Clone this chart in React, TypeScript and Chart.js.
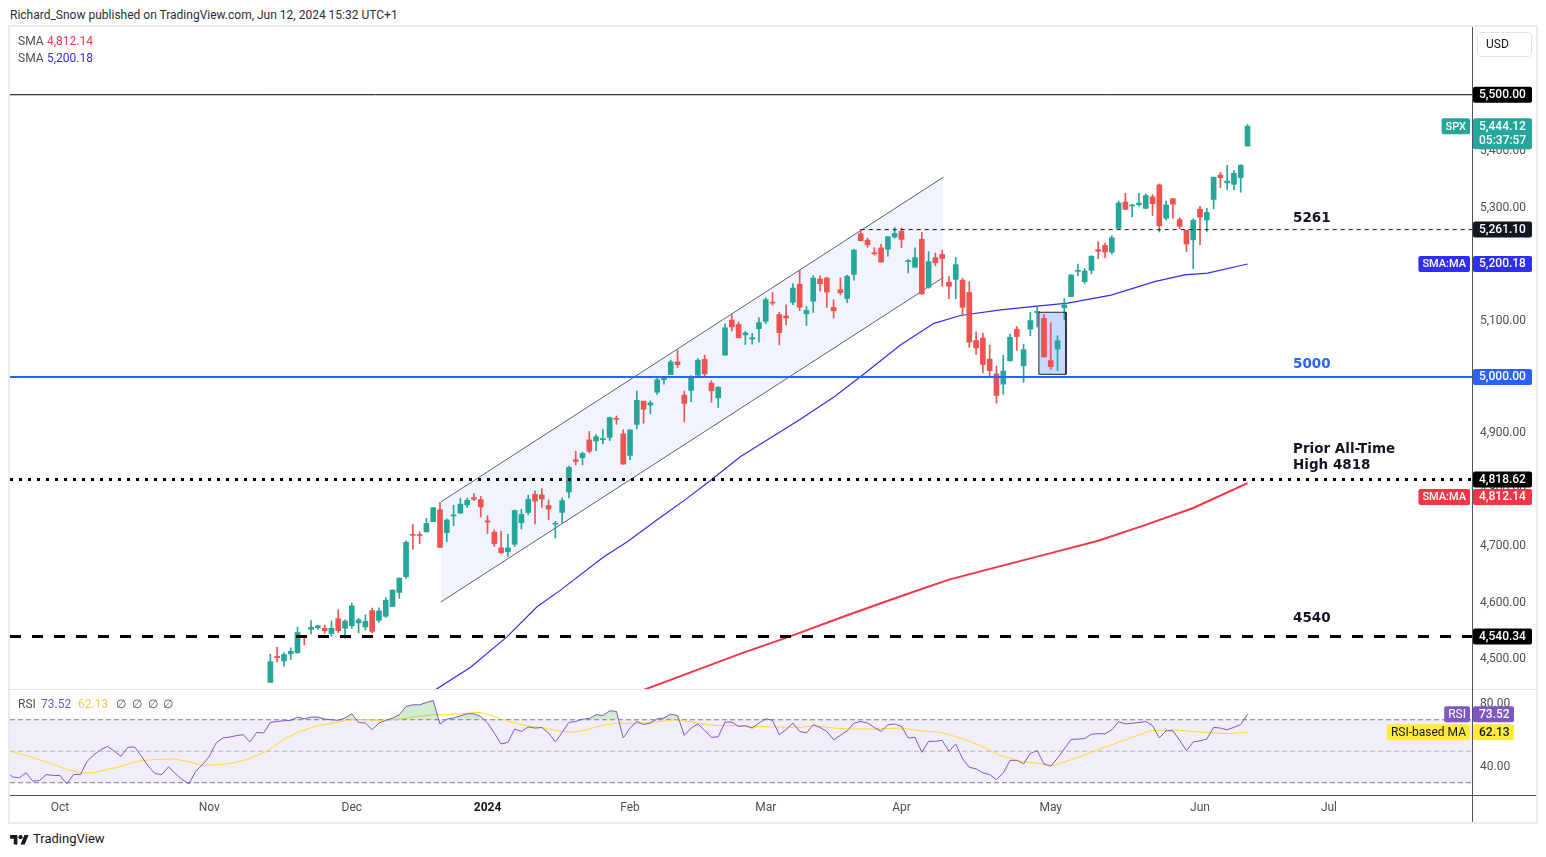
import React, { useEffect, useRef } from 'react';
import { Chart, registerables } from 'chart.js';
Chart.register(...registerables);

const FONT = 'Roboto, "Liberation Sans", sans-serif';
const NOTE_FONT = '"DejaVu Sans", Verdana, sans-serif';
const GREEN = '#26a69a';
const RED = '#ef5350';
const SMA_FAST_COLOR = '#2e2ef5';
const SMA_SLOW_COLOR = '#f23645';
const LEVEL_BLUE = '#2962ff';
const TEXT = '#131722';
const AXIS_TEXT = '#4c4f59';
const RSI_COLOR = '#7e57c2';
const RSI_MA_COLOR = '#fdd835';

// x axis: trading-day index, 0 = 2 Oct 2023
const monthTickIdx = [0, 22, 43, 63, 84, 104, 124, 146, 168, 187];
const monthTickLabels = ['Oct', 'Nov', 'Dec', '2024', 'Feb', 'Mar', 'Apr', 'May', 'Jun', 'Jul'];
const X_MIN = -7.37;
const X_MAX = 208.08;

// daily candles, first = 14 Nov 2023 (index 31)
const candleStart = 31;
const opens = [
  4458.97, 4505.30, 4497.08, 4509.55, 4511.70, 4538.77, 4553.04, 4555.84, 4554.86, 4545.55,
  4571.84, 4554.87, 4559.43, 4564.37, 4557.25, 4586.23, 4568.84, 4576.20, 4593.39, 4618.30,
  4646.20, 4721.04, 4719.40, 4725.58, 4743.72, 4764.73, 4724.29, 4753.92, 4758.86, 4773.45,
  4786.44, 4782.88, 4745.20, 4725.07, 4697.42, 4690.57, 4703.70, 4741.93, 4759.94, 4792.13,
  4791.18, 4772.35, 4739.13, 4760.10, 4796.28, 4853.42, 4856.80, 4888.56, 4886.66, 4888.91,
  4892.95, 4925.89, 4899.19, 4861.11, 4916.06, 4957.19, 4950.16, 4973.05, 4995.16, 5004.17,
  5026.83, 4967.94, 4976.44, 5003.14, 5031.13, 4989.32, 4963.03, 5038.83, 5100.92, 5093.00,
  5074.60, 5067.20, 5085.36, 5098.51, 5130.99, 5110.52, 5108.03, 5132.38, 5164.46, 5111.96,
  5134.30, 5173.49, 5175.14, 5123.31, 5154.77, 5139.09, 5181.69, 5253.43, 5242.48, 5219.52,
  5228.85, 5226.31, 5248.03, 5257.97, 5204.29, 5194.37, 5244.05, 5158.95, 5211.37, 5217.03,
  5167.88, 5172.95, 5171.51, 5149.67, 5064.59, 5068.97, 5031.52, 5005.44, 4987.33, 5028.85,
  5084.65, 5019.88, 5084.86, 5114.13, 5103.78, 5029.03, 5049.32, 5122.78, 5142.42, 5187.20,
  5168.98, 5189.03, 5225.49, 5233.08, 5221.10, 5263.26, 5310.07, 5303.10, 5305.35, 5298.69,
  5319.28, 5340.26, 5281.45, 5315.91, 5278.73, 5259.77, 5243.21, 5297.15, 5278.24, 5314.48,
  5357.80, 5343.81, 5341.22, 5353.00, 5409.13,
];
const highs = [
  4508.67, 4521.17, 4511.99, 4520.12, 4557.11, 4542.14, 4568.43, 4560.31, 4560.52, 4568.14,
  4587.64, 4569.89, 4599.39, 4572.37, 4578.56, 4590.74, 4590.92, 4609.23, 4623.18, 4643.93,
  4709.69, 4738.57, 4725.58, 4749.52, 4768.69, 4778.01, 4748.71, 4772.94, 4784.72, 4785.39,
  4793.30, 4788.43, 4754.33, 4729.29, 4726.78, 4721.49, 4764.54, 4765.47, 4790.80, 4798.50,
  4802.40, 4782.34, 4744.23, 4785.79, 4842.07, 4868.41, 4866.48, 4903.68, 4898.15, 4906.69,
  4929.31, 4931.09, 4906.75, 4906.97, 4975.29, 4957.19, 4957.77, 4999.89, 5000.40, 5030.06,
  5048.39, 4975.29, 5002.52, 5032.72, 5038.70, 4993.71, 4983.21, 5094.39, 5111.06, 5097.66,
  5080.69, 5077.37, 5104.99, 5140.33, 5149.67, 5114.54, 5127.97, 5165.62, 5189.26, 5124.66,
  5179.87, 5179.14, 5176.85, 5136.86, 5175.60, 5180.31, 5226.19, 5261.10, 5246.09, 5229.09,
  5235.16, 5249.26, 5264.85, 5263.95, 5208.34, 5228.75, 5256.59, 5222.18, 5219.57, 5224.81,
  5178.43, 5211.78, 5175.03, 5168.43, 5079.84, 5077.96, 5056.66, 5019.02, 5038.84, 5076.12,
  5089.48, 5057.75, 5114.62, 5123.49, 5110.83, 5096.12, 5073.21, 5139.12, 5181.00, 5200.23,
  5191.95, 5214.42, 5239.66, 5237.26, 5250.37, 5311.76, 5325.49, 5305.45, 5325.32, 5324.32,
  5323.18, 5341.88, 5311.65, 5315.91, 5282.26, 5260.21, 5280.33, 5302.11, 5298.80, 5354.16,
  5362.35, 5375.08, 5365.79, 5375.95, 5447.25,
];
const lows = [
  4458.97, 4495.31, 4487.83, 4499.66, 4510.36, 4525.51, 4545.05, 4552.80, 4546.32, 4540.51,
  4547.15, 4537.24, 4554.71, 4546.72, 4551.68, 4546.50, 4565.22, 4574.06, 4593.39, 4608.09,
  4643.23, 4694.34, 4704.62, 4725.58, 4743.72, 4697.82, 4708.35, 4736.77, 4758.45, 4768.90,
  4780.98, 4751.99, 4722.67, 4699.71, 4687.53, 4682.11, 4699.82, 4730.35, 4756.20, 4739.58,
  4768.98, 4747.12, 4714.82, 4740.57, 4785.87, 4844.05, 4844.37, 4865.94, 4869.34, 4881.47,
  4887.40, 4916.27, 4845.15, 4853.52, 4907.99, 4918.09, 4934.88, 4969.05, 4987.09, 5004.17,
  5016.83, 4920.31, 4956.45, 4999.44, 4999.52, 4955.02, 4946.00, 5038.83, 5081.46, 5068.91,
  5057.29, 5058.35, 5061.89, 5094.16, 5127.18, 5056.82, 5092.22, 5128.21, 5117.50, 5091.14,
  5114.48, 5151.88, 5123.30, 5104.35, 5145.47, 5131.59, 5171.55, 5240.66, 5229.87, 5216.09,
  5203.42, 5213.92, 5245.82, 5229.20, 5184.05, 5194.37, 5146.06, 5157.21, 5197.35, 5160.78,
  5138.70, 5138.77, 5107.94, 5052.47, 5039.83, 5007.25, 5001.89, 4953.56, 4969.40, 5027.96,
  5047.02, 4990.58, 5073.14, 5088.65, 5035.31, 5013.45, 5011.05, 5101.22, 5142.42, 5178.96,
  5165.86, 5182.88, 5209.68, 5211.16, 5217.98, 5263.26, 5296.19, 5283.59, 5302.40, 5297.87,
  5286.01, 5256.93, 5278.39, 5280.89, 5262.70, 5222.10, 5191.68, 5234.32, 5257.63, 5297.64,
  5335.36, 5331.33, 5331.52, 5327.25, 5409.13,
];
const closes = [
  4495.70, 4502.88, 4508.24, 4514.02, 4547.38, 4538.19, 4556.62, 4559.34, 4550.43, 4554.89,
  4550.58, 4567.80, 4594.63, 4569.78, 4567.18, 4549.34, 4585.59, 4604.37, 4622.44, 4643.70,
  4707.09, 4719.55, 4719.19, 4740.56, 4768.37, 4698.35, 4746.75, 4754.63, 4774.75, 4781.58,
  4783.35, 4769.83, 4742.83, 4704.81, 4688.68, 4697.24, 4763.54, 4756.50, 4783.45, 4780.24,
  4783.83, 4765.98, 4739.21, 4780.94, 4839.81, 4850.43, 4864.60, 4868.55, 4894.16, 4890.97,
  4927.93, 4924.97, 4845.65, 4906.19, 4958.61, 4942.81, 4954.23, 4995.06, 4997.91, 5026.61,
  5021.84, 4953.17, 5000.62, 5029.73, 5005.57, 4975.51, 4981.80, 5087.03, 5088.80, 5069.53,
  5078.18, 5069.76, 5096.27, 5137.08, 5130.95, 5078.65, 5104.76, 5157.36, 5123.69, 5117.94,
  5175.27, 5165.31, 5150.48, 5117.09, 5149.42, 5178.51, 5224.62, 5241.53, 5234.18, 5218.19,
  5203.58, 5248.49, 5254.35, 5243.77, 5205.81, 5211.49, 5147.21, 5204.34, 5202.39, 5209.91,
  5160.64, 5199.06, 5123.41, 5061.82, 5051.41, 5022.21, 5011.12, 4967.23, 5010.60, 5070.55,
  5071.63, 5048.42, 5099.96, 5116.17, 5035.69, 5018.39, 5064.20, 5127.79, 5180.74, 5187.70,
  5187.67, 5214.08, 5222.68, 5221.42, 5246.68, 5308.15, 5297.10, 5303.27, 5308.13, 5321.41,
  5307.01, 5267.84, 5304.72, 5306.04, 5266.95, 5235.48, 5277.51, 5283.40, 5291.34, 5354.03,
  5352.96, 5346.99, 5360.79, 5375.32, 5444.12,
];

// moving averages (index, value)
const sma50Idx = [50, 55.6, 60.5, 65.9, 70.3, 73.7, 80.1, 83.6, 88.0, 92.4, 95.9, 100.3, 109.1, 114.1, 118.0, 123.9, 128.8, 132.7, 138.6, 143.6, 148.5, 154.9, 161.3, 165.7, 169.1, 175];
const sma50Vals = [4405, 4448, 4486, 4540, 4593, 4622, 4681, 4708, 4747, 4785, 4817, 4859, 4925, 4965, 5001, 5057, 5095, 5109, 5119, 5125, 5131, 5145, 5169, 5181, 5184, 5200.18];
const sma200Idx = [80, 86.5, 100.3, 107.7, 116, 124, 131, 138.6, 146, 153, 160, 167, 175];
const sma200Vals = [4420, 4448, 4510, 4541, 4578, 4612, 4641, 4665, 4688, 4710, 4738, 4768, 4812.14];

const priceTicks = [4500, 4600, 4700, 4800, 4900, 5000, 5100, 5200, 5300, 5400, 5500];

// drawn levels
const levelTop = 5500;
const level5261 = 5261.1;
const level5261StartIdx = 118;
const level5000 = 5000;
const levelPriorAth = 4818.62;
const level4540 = 4540.34;
const channelIdx = [56.15, 130.19];
const channelUpper = [4778.9, 5354.1];
const channelLower = [4601.6, 5176.6];
const boxIdx = [144.25, 148.25];
const boxPrice = [5004.8, 5114.7];

const lastPrice = 5444.12;
const countdown = '05:37:57';
const sma200Last = 4812.14;
const sma50Last = 5200.18;

// RSI (first value at index -8)
const rsiStart = -8;
const rsiValues = [
  37.3, 33.7, 33.1, 36.3, 31.0, 31.4, 35.2, 34.6, 34.6, 29.3,
  35.2, 35.2, 43.6, 47.8, 51.0, 53.1, 50.0, 46.8, 52.5, 52.7,
  46.8, 40.5, 35.8, 35.2, 40.1, 35.8, 32.0, 29.3, 37.3, 41.5,
  46.8, 55.2, 58.4, 59.0, 59.9, 60.5, 55.9, 62.0, 61.6, 68.3,
  68.9, 69.4, 69.6, 71.7, 70.6, 71.7, 71.7, 70.4, 70.0, 69.6,
  71.1, 73.8, 68.3, 67.9, 63.7, 67.9, 69.6, 71.1, 73.2, 78.4,
  79.5, 79.5, 81.0, 82.2, 67.3, 70.4, 71.1, 72.5, 73.8, 73.8,
  72.1, 67.9, 61.6, 54.6, 55.6, 64.1, 62.6, 65.4, 64.7, 65.1,
  61.6, 55.9, 62.0, 68.3, 68.9, 70.4, 70.8, 73.2, 72.7, 75.7,
  75.3, 58.4, 64.7, 68.9, 67.0, 67.9, 70.6, 71.1, 73.6, 72.7,
  60.1, 64.7, 67.3, 63.2, 58.8, 59.2, 68.5, 68.5, 65.8, 66.2,
  64.7, 67.9, 70.6, 69.6, 60.5, 63.7, 67.9, 62.6, 61.6, 66.8,
  65.1, 62.6, 57.3, 60.1, 63.0, 67.9, 68.9, 67.9, 65.1, 62.6,
  66.8, 67.3, 65.8, 58.4, 58.8, 49.3, 56.3, 56.3, 56.9, 50.0,
  54.6, 45.3, 39.8, 38.8, 36.3, 35.2, 32.0, 36.1, 44.2, 44.2,
  42.0, 48.6, 50.4, 42.0, 40.4, 45.6, 51.5, 57.5, 57.7, 58.1,
  60.8, 61.2, 61.0, 63.6, 68.7, 67.4, 67.8, 68.2, 68.9, 66.3,
  58.5, 63.0, 63.0, 57.0, 50.4, 55.9, 56.6, 57.7, 65.2, 64.7,
  63.6, 65.2, 67.0, 73.52,
];
const rsiMaIdx = [-7.2, -3.9, -1.5, 1.0, 2.9, 4.9, 6.9, 8.8, 11.3, 13.8, 16.7, 18.7, 21.1, 23.1, 25.1, 27.5, 30.5, 32.9, 35.4, 37.9, 40.3, 42.8, 45.2, 47.7, 50.1, 52.6, 55.1, 57.5, 60.0, 61.9, 63.9, 66.4, 68.8, 71.3, 73.8, 75.7, 77.7, 79.6, 82.1, 84.6, 87.5, 91.0, 93.4, 96.4, 99.3, 102.3, 105.2, 109.1, 111.1, 114.1, 117.0, 120.0, 123.9, 126.8, 129.8, 132.7, 135.7, 138.4, 141.7, 143.7, 146.3, 148.9, 152.0, 154.0, 156.6, 158.1, 160.7, 164.3, 166.9, 169.4, 172.0, 175.0];
const rsiMaVals = [50.0, 45.8, 42.6, 38.4, 36.3, 36.3, 38.4, 40.1, 43.6, 44.7, 45.1, 43.6, 40.9, 41.3, 42.2, 44.7, 50.0, 57.3, 62.6, 66.2, 67.9, 70.0, 70.0, 69.6, 70.4, 72.1, 73.2, 73.2, 74.2, 74.7, 72.1, 68.6, 66.2, 64.7, 62.6, 62.2, 63.7, 66.2, 67.9, 67.5, 68.5, 70.0, 68.3, 66.4, 66.2, 65.8, 65.4, 65.1, 66.2, 64.7, 64.1, 64.1, 64.7, 63.0, 62.0, 58.4, 53.5, 47.5, 43.5, 42.5, 41.0, 44.4, 49.3, 52.6, 56.6, 59.0, 63.0, 63.6, 62.5, 61.8, 61.2, 62.13];
const rsiTicks = [80, 40];
const rsiLast = 73.52;
const rsiMaLast = 62.13;

const AXIS_W = 64;

const fmt = (v: number) => v.toLocaleString('en-US', { minimumFractionDigits: 2, maximumFractionDigits: 2 });

function hLine(y: number, color: string, width: number, dash: number[], order: number, x0 = X_MIN): any {
  return {
    type: 'line',
    data: [{ x: x0, y }, { x: X_MAX, y }],
    borderColor: color,
    borderWidth: width,
    borderDash: dash,
    pointRadius: 0,
    fill: false,
    clip: 0,
    order,
  };
}

function roundBox(ctx: CanvasRenderingContext2D, x: number, y: number, w: number, h: number, r: number) {
  ctx.beginPath();
  if ((ctx as any).roundRect) (ctx as any).roundRect(x, y, w, h, r);
  else ctx.rect(x, y, w, h);
  ctx.fill();
}

const noPad = (s: any) => {
  s.paddingTop = 0;
  s.paddingBottom = 0;
  s.paddingLeft = 0;
  s.paddingRight = 0;
};

const notes = [
  { text: '5261', price: level5261, dy: -11.6, color: TEXT },
  { text: '5000', price: level5000, dy: -12, color: LEVEL_BLUE },
  { text: 'Prior All-Time', price: levelPriorAth, dy: -29.4, color: TEXT },
  { text: 'High 4818', price: levelPriorAth, dy: -13.4, color: TEXT },
  { text: '4540', price: level4540, dy: -17.5, color: TEXT },
];
const noteIdx = 181.7;

const priceTags = [
  { value: levelTop, bg: '#000000', fg: '#ffffff' },
  { value: lastPrice, bg: GREEN, fg: '#ffffff', sub: countdown, tag: 'SPX' },
  { value: level5261, bg: TEXT, fg: '#ffffff' },
  { value: sma50Last, bg: SMA_FAST_COLOR, fg: '#ffffff', tag: 'SMA:MA' },
  { value: level5000, bg: LEVEL_BLUE, fg: '#ffffff' },
  { value: levelPriorAth, bg: '#000000', fg: '#ffffff' },
  { value: sma200Last, bg: SMA_SLOW_COLOR, fg: '#ffffff', tag: 'SMA:MA' },
  { value: level4540, bg: '#000000', fg: '#ffffff' },
];

const mainOverlay = {
  id: 'mainOverlay',
  afterDraw(chart: any) {
    const { ctx, chartArea, scales } = chart;
    const x = scales.x;
    const y = scales.y;
    ctx.save();
    ctx.textBaseline = 'middle';
    ctx.textAlign = 'left';
    notes.forEach((n) => {
      ctx.font = `bold 13.5px ${NOTE_FONT}`;
      ctx.fillStyle = n.color;
      ctx.fillText(n.text, x.getPixelForValue(noteIdx), y.getPixelForValue(n.price) + n.dy);
    });
    const axisX = chartArea.right;
    let prevBottom = -Infinity;
    priceTags.forEach((t: any) => {
      const py = y.getPixelForValue(t.value);
      let top = py - 8;
      const h = t.sub ? 31 : 16;
      if (top < prevBottom + 1) top = prevBottom + 1.5;
      prevBottom = top + h;
      ctx.fillStyle = t.bg;
      roundBox(ctx, axisX + 1, top, 59, h, 2);
      ctx.fillStyle = t.fg;
      ctx.font = `500 12px ${FONT}`;
      ctx.textAlign = 'left';
      ctx.fillText(fmt(t.value), axisX + 7, top + 8.5);
      if (t.sub) ctx.fillText(t.sub, axisX + 7, top + 22.5);
      if (t.tag) {
        ctx.font = `500 11px ${FONT}`;
        const w = ctx.measureText(t.tag).width + 8;
        ctx.fillStyle = t.bg;
        roundBox(ctx, axisX - 2 - w, top, w, 16, 2);
        ctx.fillStyle = t.fg;
        ctx.textAlign = 'center';
        ctx.fillText(t.tag, axisX - 2 - w / 2, top + 8.5);
      }
    });
    ctx.restore();
  },
};

const rsiTags = [
  { value: rsiLast, bg: RSI_COLOR, fg: '#ffffff', tag: 'RSI' },
  { value: rsiMaLast, bg: '#ffeb3b', fg: TEXT, tag: 'RSI-based MA' },
];

const rsiOverlay = {
  id: 'rsiOverlay',
  afterDraw(chart: any) {
    const { ctx, chartArea, scales } = chart;
    const y = scales.y;
    const axisX = chartArea.right;
    ctx.save();
    ctx.textBaseline = 'middle';
    let prevBottom = -Infinity;
    rsiTags.forEach((t) => {
      let top = y.getPixelForValue(t.value) - 8;
      if (top < prevBottom + 1) top = prevBottom + 1.5;
      prevBottom = top + 16;
      ctx.fillStyle = t.bg;
      roundBox(ctx, axisX + 1, top, 41, 16, 2);
      ctx.fillStyle = t.fg;
      ctx.font = `500 12px ${FONT}`;
      ctx.textAlign = 'left';
      ctx.fillText(t.value.toFixed(2), axisX + 7, top + 8.5);
      ctx.font = `12px ${FONT}`;
      const w = ctx.measureText(t.tag).width + 8;
      ctx.fillStyle = t.bg;
      roundBox(ctx, axisX - 2 - w, top, w, 16, 2);
      ctx.fillStyle = t.fg;
      ctx.textAlign = 'center';
      ctx.fillText(t.tag, axisX - 2 - w / 2, top + 8.5);
    });
    ctx.restore();
  },
};

function buildMain(canvas: HTMLCanvasElement) {
  const xs = opens.map((_, i) => candleStart + i);
  const candleColors = opens.map((o, i) => (closes[i] >= o ? GREEN : RED));
  const channelColor = '#5d606b';
  const datasets: any[] = [
    {
      type: 'line',
      data: channelIdx.map((x, i) => ({ x, y: channelUpper[i] })),
      borderColor: channelColor, borderWidth: 1, pointRadius: 0,
      fill: '+1', backgroundColor: 'rgba(41,98,255,0.07)', order: 60, clip: 0,
    },
    {
      type: 'line',
      data: channelIdx.map((x, i) => ({ x, y: channelLower[i] })),
      borderColor: channelColor, borderWidth: 1, pointRadius: 0, fill: false, order: 60, clip: 0,
    },
    {
      type: 'line',
      data: boxIdx.map((x) => ({ x, y: boxPrice[1] })),
      borderWidth: 0, borderColor: 'rgba(0,0,0,0)', pointRadius: 0,
      fill: { value: boxPrice[0] }, backgroundColor: 'rgba(41,98,255,0.25)', order: 55, clip: 0,
    },
    {
      type: 'line',
      data: sma200Idx.map((x, i) => ({ x, y: sma200Vals[i] })),
      borderColor: SMA_SLOW_COLOR, borderWidth: 2, pointRadius: 0, fill: false, order: 40, clip: 0,
    },
    {
      type: 'line',
      data: sma50Idx.map((x, i) => ({ x, y: sma50Vals[i] })),
      borderColor: SMA_FAST_COLOR, borderWidth: 1.2, pointRadius: 0, fill: false, order: 40, clip: 0,
    },
    {
      type: 'bar',
      data: xs.map((x, i) => ({ x, y: [lows[i], highs[i]] })),
      backgroundColor: candleColors, barThickness: 1, maxBarThickness: 1,
      grouped: false, borderWidth: 0, order: 20,
    },
    {
      type: 'bar',
      data: xs.map((x, i) => ({ x, y: [opens[i], closes[i]] })),
      backgroundColor: candleColors, barThickness: 5, maxBarThickness: 5,
      grouped: false, minBarLength: 1, borderWidth: 0, order: 10,
    },
    {
      type: 'line',
      data: [
        { x: boxIdx[0], y: boxPrice[0] }, { x: boxIdx[0], y: boxPrice[1] },
        { x: boxIdx[1], y: boxPrice[1] }, { x: boxIdx[1], y: boxPrice[0] },
        { x: boxIdx[0], y: boxPrice[0] },
      ],
      borderColor: '#1e222d', borderWidth: 1, pointRadius: 0, fill: false, order: 5, clip: 0,
    },
    hLine(levelTop, '#000000', 1, [], 4),
    hLine(level5261, TEXT, 1, [4, 4], 4, level5261StartIdx),
    hLine(level5000, LEVEL_BLUE, 2, [], 4),
    hLine(levelPriorAth, '#000000', 3, [3, 6], 4),
    hLine(level4540, '#000000', 3, [11, 11], 4),
  ];
  return new Chart(canvas, {
    type: 'bar',
    data: { datasets },
    options: {
      animation: false,
      responsive: false,
      maintainAspectRatio: false,
      events: [],
      layout: { padding: 0 },
      plugins: { legend: { display: false }, tooltip: { enabled: false } },
      scales: {
        x: {
          type: 'linear', min: X_MIN, max: X_MAX, display: false, offset: false,
          grid: { display: false },
        },
        y: {
          type: 'linear', position: 'right', min: 4447.3, max: 5620,
          grid: { display: false, drawTicks: false },
          border: { display: false },
          afterFit: (s: any) => { s.width = AXIS_W; noPad(s); },
          afterBuildTicks: (s: any) => { s.ticks = priceTicks.map((v) => ({ value: v })); },
          ticks: {
            padding: 8,
            color: AXIS_TEXT,
            font: { family: FONT, size: 12 },
            callback: (v: any) => fmt(Number(v)),
          },
        },
      },
    } as any,
    plugins: [mainOverlay],
  });
}

function buildRsi(canvas: HTMLCanvasElement) {
  const datasets: any[] = [
    {
      type: 'line',
      data: rsiValues.map((v, i) => ({ x: rsiStart + i, y: v })),
      borderColor: RSI_COLOR, borderWidth: 1, pointRadius: 0,
      fill: { target: { value: 70 }, above: 'rgba(76,175,80,0.25)', below: 'rgba(0,0,0,0)' },
      order: 1, clip: 0,
    },
    {
      type: 'line',
      data: rsiMaIdx.map((x, i) => ({ x, y: rsiMaVals[i] })),
      borderColor: RSI_MA_COLOR, borderWidth: 1, pointRadius: 0, fill: false, order: 2, clip: 0,
    },
    {
      type: 'line',
      data: [{ x: X_MIN, y: 70 }, { x: X_MAX, y: 70 }],
      borderWidth: 0, borderColor: 'rgba(0,0,0,0)', pointRadius: 0,
      fill: { value: 30 }, backgroundColor: 'rgba(126,87,194,0.1)', order: 20, clip: 0,
    },
    hLine(70, '#787b86', 1, [5, 3], 10),
    hLine(50, 'rgba(120,123,134,0.5)', 1, [5, 3], 10),
    hLine(30, '#787b86', 1, [5, 3], 10),
  ];
  return new Chart(canvas, {
    type: 'line',
    data: { datasets },
    options: {
      animation: false,
      responsive: false,
      maintainAspectRatio: false,
      events: [],
      layout: { padding: 0 },
      plugins: { legend: { display: false }, tooltip: { enabled: false } },
      scales: {
        x: {
          type: 'linear', min: X_MIN, max: X_MAX, position: 'bottom', offset: false,
          grid: { display: false, drawTicks: false },
          border: { display: false },
          afterFit: (s: any) => { s.height = 27; noPad(s); },
          afterBuildTicks: (s: any) => { s.ticks = monthTickIdx.map((v) => ({ value: v })); },
          ticks: {
            autoSkip: false, maxRotation: 0, minRotation: 0, padding: 6,
            color: (c: any) => (c.tick && c.tick.value === 63 ? TEXT : AXIS_TEXT),
            font: (c: any) => ({ family: FONT, size: 12, weight: c.tick && c.tick.value === 63 ? 'bold' : 'normal' }),
            callback: (v: any) => monthTickLabels[monthTickIdx.indexOf(Number(v))] ?? '',
          },
        },
        y: {
          type: 'linear', position: 'right', min: 22.2, max: 88.9,
          grid: { display: false, drawTicks: false },
          border: { display: false },
          afterFit: (s: any) => { s.width = AXIS_W; noPad(s); },
          afterBuildTicks: (s: any) => { s.ticks = rsiTicks.map((v) => ({ value: v })); },
          ticks: {
            padding: 8, color: AXIS_TEXT, font: { family: FONT, size: 12 },
            callback: (v: any) => Number(v).toFixed(2),
          },
        },
      },
    } as any,
    plugins: [rsiOverlay],
  });
}

const abs = (left: number, top: number, extra: any = {}) => ({ position: 'absolute' as const, left, top, ...extra });

export default function App() {
  const mainRef = useRef<HTMLCanvasElement>(null);
  const rsiRef = useRef<HTMLCanvasElement>(null);
  useEffect(() => {
    const m = buildMain(mainRef.current!);
    const r = buildRsi(rsiRef.current!);
    return () => { m.destroy(); r.destroy(); };
  }, []);

  const txt = { fontSize: 12, lineHeight: '16px', whiteSpace: 'nowrap' as const };
  return (
    <div style={{ position: 'fixed', left: 0, top: 0, width: 1546, height: 857, background: '#ffffff', fontFamily: FONT, color: TEXT, overflow: 'hidden' }}>
      <div style={abs(10, 7, { ...txt, color: '#2a2e39' })}>Richard_Snow published on TradingView.com, Jun 12, 2024 15:32 UTC+1</div>
      <div style={abs(8, 25, { width: 1530, height: 799, boxSizing: 'border-box', border: '2px solid #e9ebf0' })} />
      <canvas ref={mainRef} width={1526} height={662} style={abs(10, 27, { width: 1526, height: 662 })} />
      <canvas ref={rsiRef} width={1526} height={132} style={abs(10, 690, { width: 1526, height: 132 })} />
      <div style={abs(10, 689, { width: 1526, height: 1, background: '#e0e3eb' })} />
      <div style={abs(10, 795, { width: 1526, height: 1, background: '#50535e' })} />
      <div style={abs(1472, 27, { width: 1, height: 795, background: '#50535e' })} />

      <span style={abs(18, 33, { ...txt, color: '#4c4f59' })}>SMA</span>
      <span style={abs(47, 33, { ...txt, color: SMA_SLOW_COLOR })}>{fmt(sma200Last)}</span>
      <span style={abs(18, 50, { ...txt, color: '#4c4f59' })}>SMA</span>
      <span style={abs(47, 50, { ...txt, color: SMA_FAST_COLOR })}>{fmt(sma50Last)}</span>

      <span style={abs(18, 696, { ...txt, color: '#4c4f59' })}>RSI</span>
      <span style={abs(41, 696, { ...txt, color: RSI_COLOR })}>{rsiLast.toFixed(2)}</span>
      <span style={abs(78, 696, { ...txt, color: '#f2d43a' })}>{rsiMaLast.toFixed(2)}</span>
      {[116, 132, 148, 163].map((l) => (
        <span key={l} style={abs(l, 696, { ...txt, color: '#4c4f59' })}>∅</span>
      ))}

      <div style={abs(1477, 32, { width: 55, height: 25, boxSizing: 'border-box', border: '1px solid #e0e3eb', borderRadius: 4, fontSize: 12, lineHeight: '23px', paddingLeft: 8, color: TEXT })}>USD</div>

      <svg style={abs(10, 833)} width="19" height="12" viewBox="0 0 36 23">
        <path d="M14 22H7V11H0V4h14v18z M28 22h-8l7.5-18h8L28 22z" fill="#131722" />
        <circle cx="20" cy="8" r="4" fill="#131722" />
      </svg>
      <span style={abs(33, 831, { fontSize: 13, lineHeight: '16px', color: TEXT, whiteSpace: 'nowrap' })}>TradingView</span>
    </div>
  );
}
